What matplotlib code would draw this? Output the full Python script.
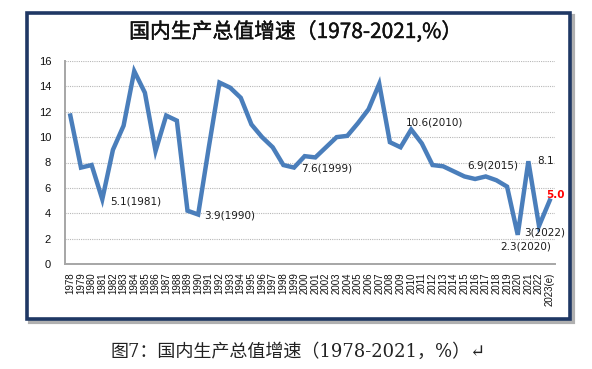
"""China GDP growth line chart (1978-2023e) in a framed box."""

import matplotlib

matplotlib.use("Agg")

import matplotlib.patheffects as pe
import matplotlib.pyplot as plt
from matplotlib.patches import Rectangle

years = [str(y) for y in range(1978, 2023)] + ["2023(e)"]
growth = [
    11.7, 7.6, 7.8, 5.1, 9.0, 10.9, 15.2, 13.5, 8.9, 11.7,
    11.3, 4.2, 3.9, 9.2, 14.3, 13.9, 13.1, 11.0, 10.0, 9.2,
    7.8, 7.6, 8.5, 8.4, 9.2, 10.0, 10.1, 11.1, 12.2, 14.2,
    9.6, 9.2, 10.6, 9.5, 7.8, 7.7, 7.3, 6.9, 6.7, 6.9,
    6.6, 6.1, 2.3, 8.1, 3.0, 5.0,
]
# (year label, text, offset x px, offset y px, colour)
callouts = [
    ("1981", "5.1(1981)", 33, -2, "#1a1a1a"),
    ("1990", "3.9(1990)", 32, -1, "#1a1a1a"),
    ("1999", "7.6(1999)", 33, -1, "#1a1a1a"),
    ("2010", "10.6(2010)", 23, 7, "#1a1a1a"),
    ("2015", "6.9(2015)", 28, 11, "#1a1a1a"),
    ("2021", "8.1", 17, 0, "#1a1a1a"),
    ("2020", "2.3(2020)", 8, -12, "#1a1a1a"),
    ("2022", "3(2022)", 6, -7, "#1a1a1a"),
    ("2023(e)", "5.0", 6, 6, "#ff0000"),
]

W, H = 592, 369
fig = plt.figure(figsize=(W / 100, H / 100), dpi=100)
fig.patch.set_facecolor("white")

# outer frame with a soft shadow
fig.patches.append(Rectangle((30 / W, 1 - 322 / H), 543 / W, 306 / H,
                             transform=fig.transFigure, fill=False,
                             edgecolor="#b0b0b0", linewidth=3, zorder=0))
fig.patches.append(Rectangle((27 / W, 1 - 319 / H), 543 / W, 306 / H,
                             transform=fig.transFigure, fill=True,
                             facecolor="white", edgecolor="#1f3864",
                             linewidth=2.6, zorder=1))

ax = fig.add_axes([65 / W, 1 - 264 / H, 490 / W, 203 / H])
ax.set_zorder(2)
x = list(range(len(years)))
ax.plot(x, growth, color="#4a7ebb", linewidth=3.2, solid_joinstyle="miter",
        zorder=3)

ax.set_xlim(-0.5, len(years) - 0.5)
ax.set_ylim(0, 16)
ax.set_yticks(range(0, 17, 2))
ax.set_xticks(x)
ax.set_xticklabels(years, rotation=90, fontsize=7, family="Liberation Sans",
                   va="top")
for lab in ax.get_yticklabels():
    lab.set_fontsize(8)
    lab.set_family("Liberation Sans")
ax.tick_params(axis="both", length=0, colors="#111111")
ax.tick_params(axis="y", pad=10)
ax.tick_params(axis="x", pad=6)
ax.grid(axis="y", color="#b8b8b8", linestyle=(0, (1, 1)), linewidth=0.8)
ax.set_axisbelow(True)
for side in ("top", "right"):
    ax.spines[side].set_visible(False)
for side in ("left", "bottom"):
    ax.spines[side].set_color("#a6a6a6")
    ax.spines[side].set_linewidth(1.4)

for yr, text, dx, dy, col in callouts:
    i = years.index(yr)
    ax.annotate(text, (i, growth[i]), xytext=(dx * 0.72, dy * 0.72),
                textcoords="offset points", ha="center", va="center",
                fontsize=7.5, color=col,
                fontweight="bold" if col != "#1a1a1a" else "normal")

fig.text(296 / W, 1 - 32 / H, "国内生产总值增速（1978-2021,%）", ha="center",
         va="center", fontsize=15, color="#111111",
         family=["Noto Sans CJK SC", "DejaVu Sans"],
         path_effects=[pe.withStroke(linewidth=0.3, foreground="#111111")])
fig.text(298 / W, 1 - 352 / H, "图7：国内生产总值增速（1978-2021，%）↵",
         ha="center", va="center", fontsize=13, color="#222222",
         family=["DejaVu Serif", "Noto Sans CJK SC", "DejaVu Sans"])

fig.savefig("out.png", dpi=100)
plt.close(fig)
